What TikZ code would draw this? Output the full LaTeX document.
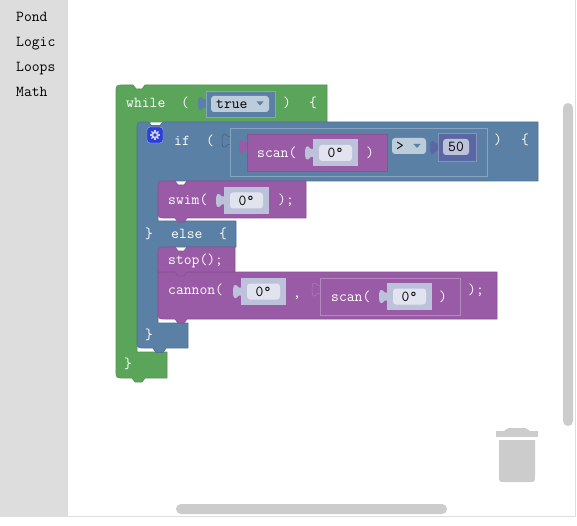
\documentclass[tikz,border=0pt]{standalone}
\usepackage{fontspec}
\newfontfamily\blockfont{Latin Modern Mono}
\definecolor{whilegreen}{HTML}{5BA55B}
\definecolor{ifblue}{HTML}{5B80A5}
\definecolor{botpurple}{HTML}{995BA5}
\definecolor{numindigo}{HTML}{5B67A5}
\definecolor{anglelilac}{HTML}{BDC2DB}
\definecolor{fieldpale}{HTML}{E1E4EF}
\definecolor{dropblue}{HTML}{BDCCDB}
\definecolor{panelgrey}{HTML}{DDDDDD}
\definecolor{trashgrey}{HTML}{CCCCCC}
\definecolor{gearblue}{HTML}{2B3FDB}
\tikzset{
	block/.style={fill=#1, draw=#1!90!black, line width=0.7pt},
	valbox/.style={fill=#1, draw=#1!72!white, line width=0.8pt},
	lbl/.style={anchor=base west, inner sep=0pt, yshift=-0.8pt, text=white, font=\blockfont\fontsize{15.2}{16}\selectfont},
	menuitem/.style={lbl, text=black},
	field/.style={fill=#1, rounded corners=3pt, inner sep=0pt, text=black, font=\blockfont\fontsize{15.2}{16}\selectfont},
}
% tab sticking out to the left of a value box
\newcommand{\puztab}[3]{\path[#1, rounded corners=1pt] (#2+1,#3+2.5) -- (#2-3,#3+2.5) -- (#2-4,#3) -- (#2-7,#3) -- (#2-8,#3+4)
	-- (#2-8,#3+9) -- (#2-7,#3+13) -- (#2-4,#3+13) -- (#2-3,#3+10.5) -- (#2+1,#3+10.5) -- cycle;}
% angle value box with its tab and field
\newcommand{\anglebox}[3]{\puztab{fill=anglelilac}{#2}{#3+7}
	\fill[anglelilac] (#2,#3) rectangle (#2+45,#3+27);
	\node[field=fieldpale, minimum width=33pt, minimum height=16pt] (#1) at (#2+22.5,#3+13.5) {0°};}
% little triangle of a dropdown
\newcommand{\dropmark}[3]{\fill[#1] (#2-3.5,#3-2) -- (#2+3.5,#3-2) -- (#2,#3+2) -- cycle;}
\begin{document}
\begin{tikzpicture}[x=1pt, y=-1pt]
\useasboundingbox (0,0) rectangle (577,526);
% workspace and menu
\fill[white] (0,0) rectangle (577,526);
\draw[panelgrey] (0,516.5) -- (575.5,516.5) -- (575.5,0);
\fill[panelgrey] (0,0) rectangle (68,516.5);
\node[menuitem] (pond) at (16,21) {Pond};
\node[menuitem] (logic) at (16,46) {Logic};
\node[menuitem] (loops) at (16,71) {Loops};
\node[menuitem] (math) at (16,96) {Math};

% while block
\draw[block=whilegreen] (116,93) .. controls (116,85) .. (124,85) -- (133,85) -- (136,89) -- (142,89) -- (145,85) -- (327,85)
	-- (327,122) -- (150,122) -- (150,130) -- (137,130) -- (137,352) -- (167,352) -- (167,378) -- (145,378) -- (142,382)
	-- (135,382) -- (132,378) -- (124,378) .. controls (116,378) .. (116,370) -- cycle;
\node[lbl] (whileword) at (126,107) {while};
\node[lbl] (whileopen) at (181,107) {(};
\node[lbl] (whileclose) at (283,107) {)};
\node[lbl] (whilebrace) at (309,107) {\{};
\puztab{fill=ifblue}{206}{97}
\draw[valbox=ifblue] (206,91) rectangle (275,117);
\node[field=dropblue, minimum width=58pt, minimum height=16pt] (truefield) at (240,104) {};
\node[lbl, text=black] (trueword) at (216,108) {true};
\dropmark{ifblue}{260}{103.5}

% if else block
\draw[block=ifblue] (137,130) .. controls (137,122) .. (145,122) -- (148,122) -- (151,125.5) -- (160,125.5) -- (163,122) -- (538,122)
	-- (538,181) -- (170,181) -- (170,190) -- (158,190) -- (158,221) -- (236,221) -- (236,247) -- (170,247) -- (170,255)
	-- (158,255) -- (158,323) -- (188,323) -- (188,348) -- (166,348) -- (163,352.5) -- (156,352.5) -- (153,348) -- (145,348)
	.. controls (137,348) .. (137,340) -- cycle;
% gear
\draw[fill=gearblue, draw=gearblue!40!white, rounded corners=3pt] (147,127) rectangle (163,143);
\foreach \a in {0,45,...,315}
	\draw[white!75!gearblue, line width=1.4pt] (155,135) -- ++(\a:5);
\fill[white!75!gearblue] (155,135) circle (3.8pt);
\fill[gearblue] (155,135) circle (1.8pt);
\node[lbl] (ifword) at (174,145) {if};
\node[lbl] (ifopen) at (206,145) {(};
\node[lbl] (ifclose) at (494,144) {)};
\node[lbl] (ifbrace) at (521,144) {\{};
\puztab{fill=ifblue, draw=ifblue!75!black, line width=0.5pt}{230}{134}
\draw[valbox=ifblue] (230,128) rectangle (487,176);
\node[field=dropblue, minimum width=34pt, minimum height=16pt] (opfield) at (409,146) {};
\node[lbl, text=black] (opword) at (396,150) {>};
\dropmark{ifblue}{417}{146}
\puztab{fill=numindigo}{438}{141}
\draw[valbox=numindigo] (438,133) rectangle (476,161);
\node[field=anglelilac, minimum width=26pt, minimum height=16pt] (fifty) at (456,147) {50};
\node[lbl] (elseclose) at (145,238) {\}};
\node[lbl] (elseword) at (171,238) {else};
\node[lbl] (elsebrace) at (219,238) {\{};
\node[lbl] (ifend) at (145,339) {\}};
\node[lbl] (whileend) at (124,368) {\}};

% scan inside the condition
\puztab{fill=botpurple}{247}{140}
\draw[block=botpurple] (247,134) rectangle (387,171);
\node[lbl] (scanword) at (257,157) {scan(};
\anglebox{scanangle}{313}{139.5}
\node[lbl] (scanclose) at (366,157) {)};

% swim
\draw[block=botpurple] (158,189) .. controls (158,181) .. (166,181) -- (175,181) -- (178,185) -- (184,185) -- (187,181) -- (306,181)
	-- (306,218) -- (187,218) -- (184,222) -- (178,222) -- (175,218) -- (166,218) .. controls (158,218) .. (158,210) -- cycle;
\node[lbl] (swimword) at (168,204) {swim(};
\anglebox{swimangle}{224}{187}
\node[lbl] (swimclose) at (278,204) {);};

% cannon and stop
\draw[block=botpurple] (158,272) -- (497,272) -- (497,319) -- (187,319) -- (184,323) -- (178,323) -- (175,319) -- (166,319)
	.. controls (158,319) .. (158,311) -- cycle;
\draw[block=botpurple] (158,255) .. controls (158,247) .. (166,247) -- (175,247) -- (178,251) -- (184,251) -- (187,247) -- (235,247)
	-- (235,272) -- (187,272) -- (184,276) -- (178,276) -- (175,272) -- (158,272) -- cycle;
\node[lbl] (stopword) at (168,264) {stop();};
\node[lbl] (cannonword) at (168,294) {cannon(};
\anglebox{cannonangle}{241}{278}
\node[lbl] (cannoncomma) at (293,297) {,};
\puztab{fill=botpurple, draw=botpurple!80!white, line width=0.5pt}{320}{283}
\draw[valbox=botpurple] (320,278) rectangle (460,315);
\node[lbl] (innerscan) at (331,301) {scan(};
\anglebox{innerangle}{387}{283}
\node[lbl] (innerclose) at (439,301) {)};
\node[lbl] (cannonclose) at (468,294) {);};

% scrollbars
\fill[trashgrey, rounded corners=5pt] (563,103) rectangle (573,426);
\fill[trashgrey, rounded corners=5pt] (176,504) rectangle (447,514);
% trash
\fill[trashgrey] (496,431) rectangle (538,437);
\fill[trashgrey] (504,431) .. controls (508,428) .. (512,428) -- (522,428) .. controls (526,428) .. (530,431) -- cycle;
\fill[trashgrey] (499,440) -- (535,440) -- (535,476) .. controls (535,482) .. (529,482) -- (505,482) .. controls (499,482) .. (499,476) -- cycle;
\end{tikzpicture}
\end{document}
